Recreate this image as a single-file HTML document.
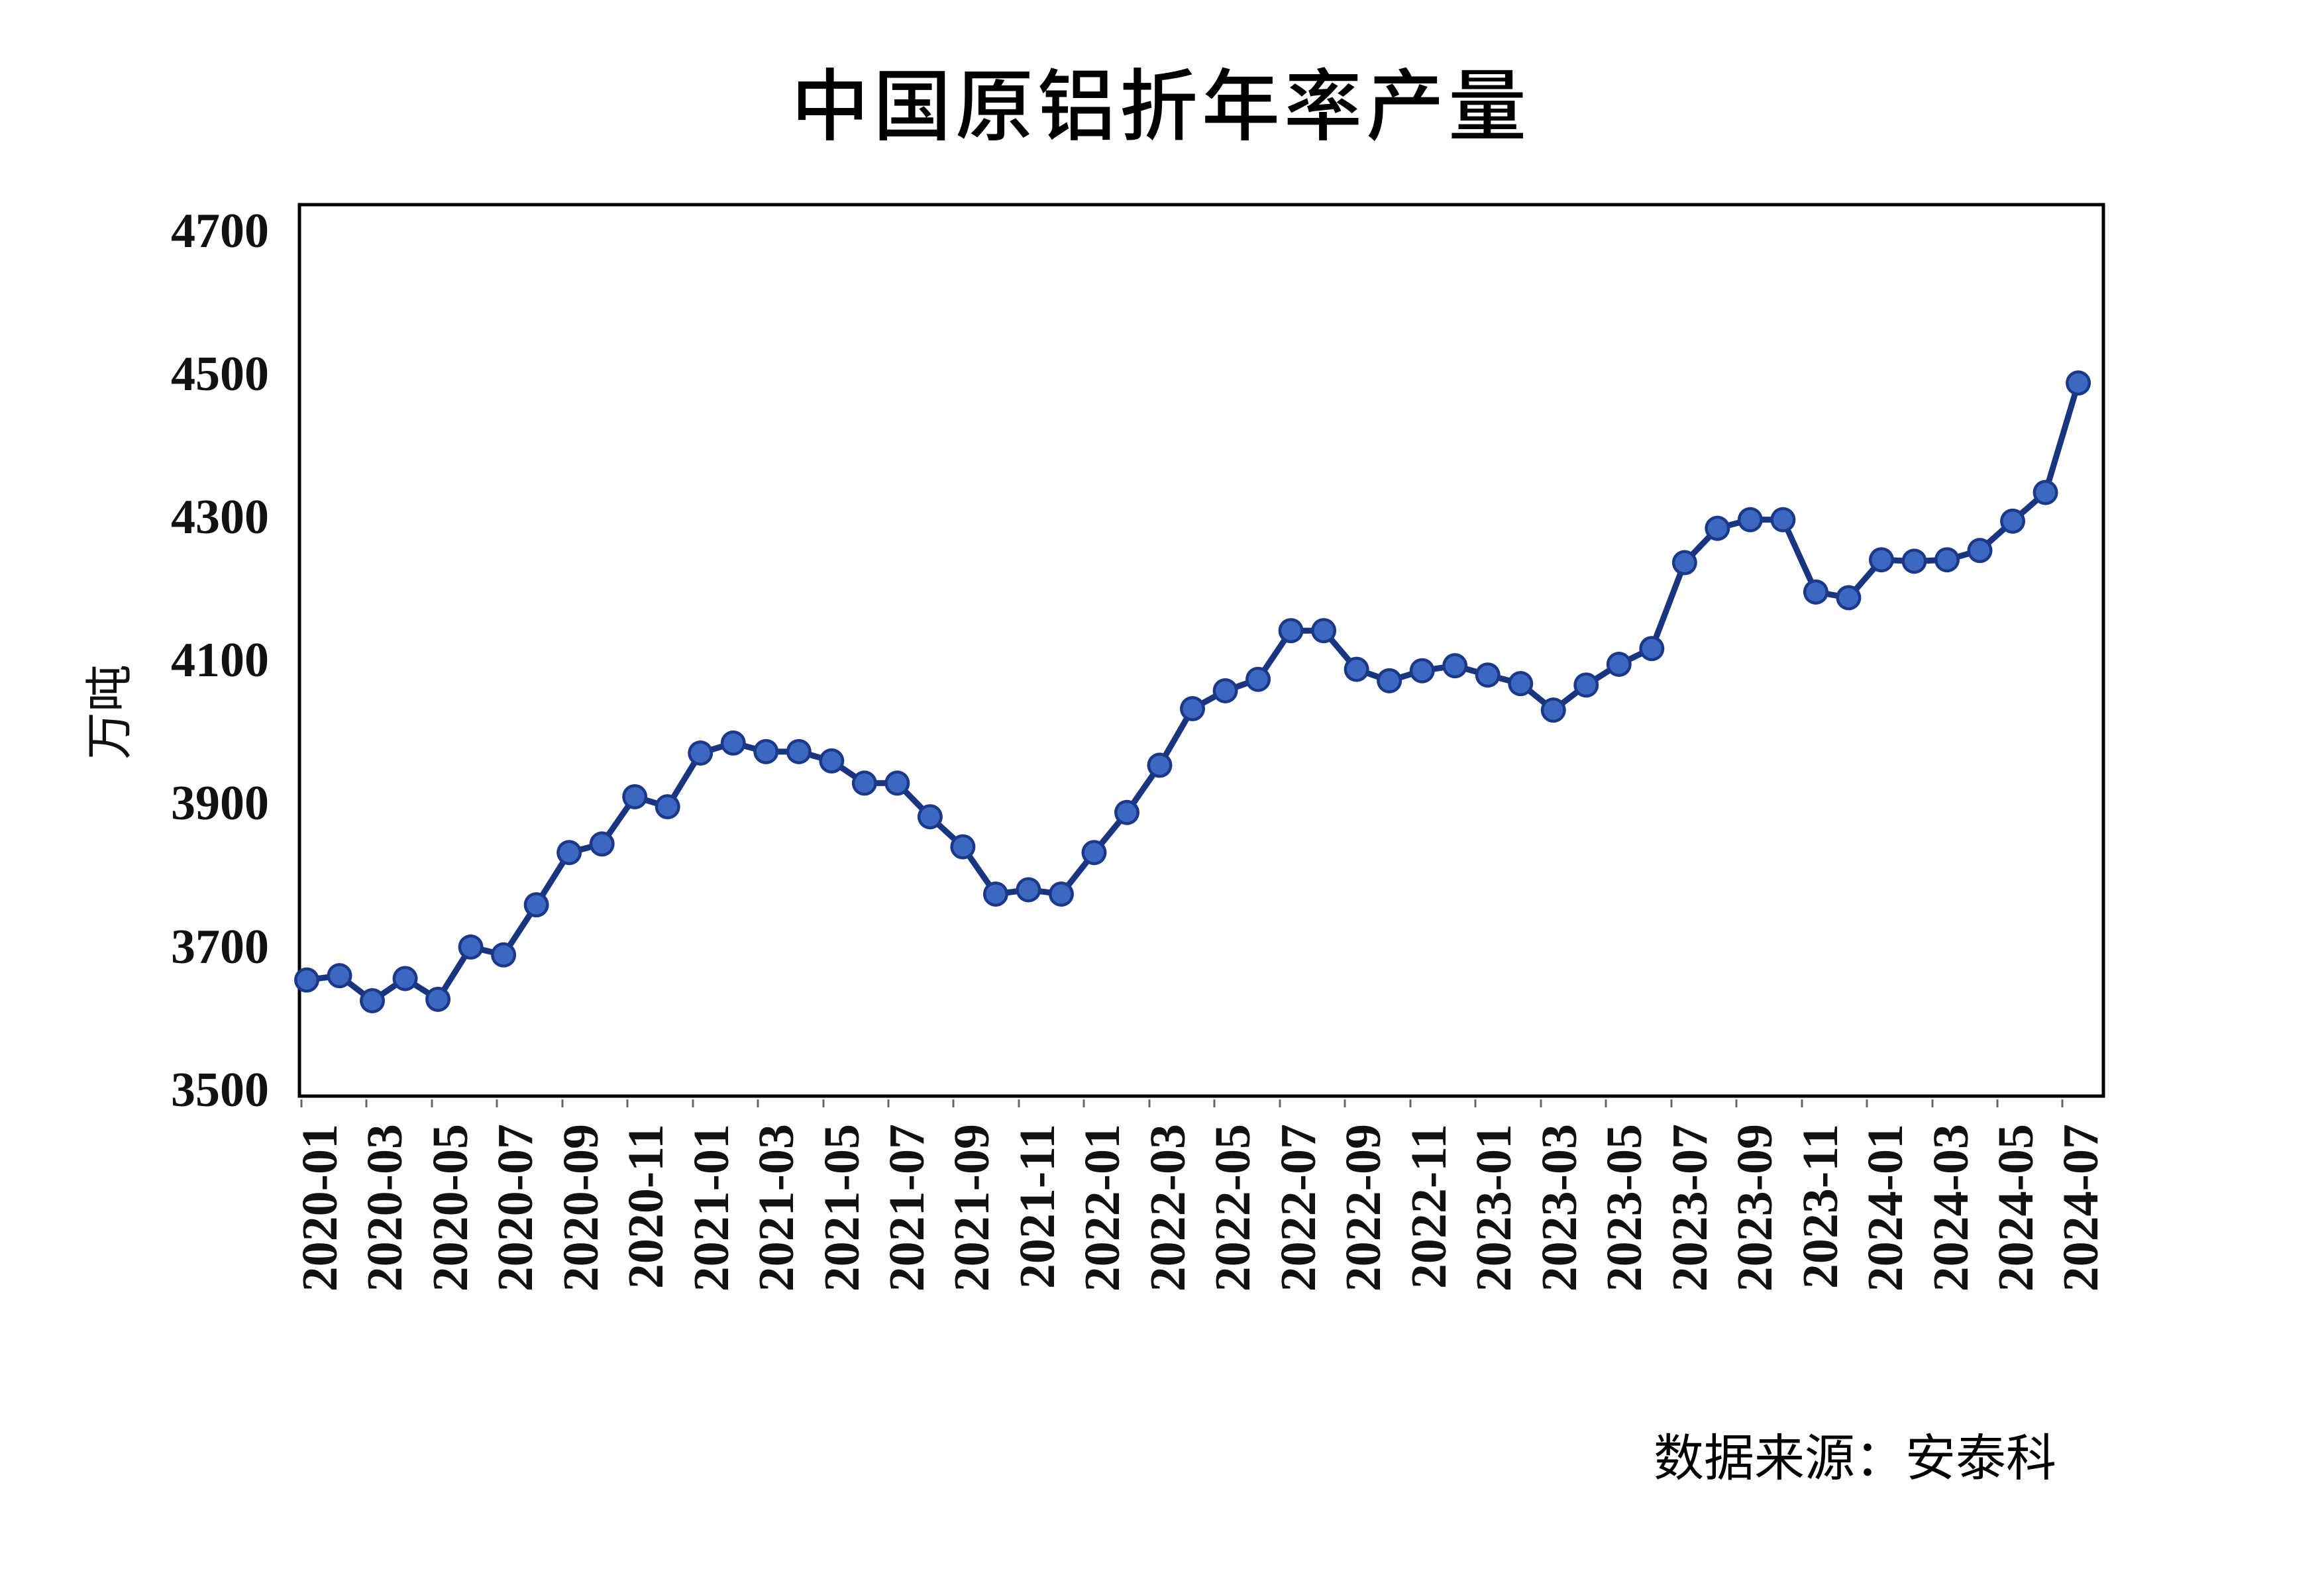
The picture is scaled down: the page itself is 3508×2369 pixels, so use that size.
<!DOCTYPE html>
<html><head><meta charset="utf-8"><style>
html,body{margin:0;padding:0;background:#fff;}
svg{display:block;}
.cjk{font-family:"Liberation Sans","Noto Sans CJK SC",sans-serif;}
.num{font-family:"Liberation Serif",serif;font-weight:bold;fill:#111;}
</style></head><body>
<svg width="3508" height="2369" viewBox="0 0 3508 2369" xmlns="http://www.w3.org/2000/svg">
<rect width="3508" height="2369" fill="#fff"/>
<text class="cjk" x="1752" y="202" font-size="118" text-anchor="middle" letter-spacing="6" fill="#000" font-weight="500">中国原铝折年率产量</text>
<rect x="452" y="309" width="2723" height="1346" fill="none" stroke="#000" stroke-width="5"/>
<g class="num" font-size="74" text-anchor="end">
<text x="406" y="373">4700</text>
<text x="406" y="589">4500</text>
<text x="406" y="805">4300</text>
<text x="406" y="1021">4100</text>
<text x="406" y="1237">3900</text>
<text x="406" y="1454">3700</text>
<text x="406" y="1670">3500</text>
</g>
<text class="cjk" transform="translate(190,1075) rotate(-90)" font-size="72" text-anchor="middle" fill="#111">万吨</text>
<g stroke="#666" stroke-width="3">
<path d="M455 1660v12M553 1660v12M652 1660v12M750 1660v12M849 1660v12M947 1660v12M1046 1660v12M1144 1660v12M1243 1660v12M1341 1660v12M1439 1660v12M1538 1660v12M1636 1660v12M1735 1660v12M1833 1660v12M1932 1660v12M2030 1660v12M2129 1660v12M2227 1660v12M2326 1660v12M2424 1660v12M2523 1660v12M2621 1660v12M2720 1660v12M2818 1660v12M2917 1660v12M3015 1660v12M3113 1660v12"/>
</g>
<g class="num" font-size="76" text-anchor="end">
<text transform="translate(508,1697) rotate(-90)">2020-01</text>
<text transform="translate(606,1697) rotate(-90)">2020-03</text>
<text transform="translate(705,1697) rotate(-90)">2020-05</text>
<text transform="translate(803,1697) rotate(-90)">2020-07</text>
<text transform="translate(902,1697) rotate(-90)">2020-09</text>
<text transform="translate(1000,1697) rotate(-90)">2020-11</text>
<text transform="translate(1099,1697) rotate(-90)">2021-01</text>
<text transform="translate(1197,1697) rotate(-90)">2021-03</text>
<text transform="translate(1296,1697) rotate(-90)">2021-05</text>
<text transform="translate(1394,1697) rotate(-90)">2021-07</text>
<text transform="translate(1492,1697) rotate(-90)">2021-09</text>
<text transform="translate(1591,1697) rotate(-90)">2021-11</text>
<text transform="translate(1689,1697) rotate(-90)">2022-01</text>
<text transform="translate(1788,1697) rotate(-90)">2022-03</text>
<text transform="translate(1886,1697) rotate(-90)">2022-05</text>
<text transform="translate(1985,1697) rotate(-90)">2022-07</text>
<text transform="translate(2083,1697) rotate(-90)">2022-09</text>
<text transform="translate(2182,1697) rotate(-90)">2022-11</text>
<text transform="translate(2280,1697) rotate(-90)">2023-01</text>
<text transform="translate(2379,1697) rotate(-90)">2023-03</text>
<text transform="translate(2477,1697) rotate(-90)">2023-05</text>
<text transform="translate(2576,1697) rotate(-90)">2023-07</text>
<text transform="translate(2674,1697) rotate(-90)">2023-09</text>
<text transform="translate(2773,1697) rotate(-90)">2023-11</text>
<text transform="translate(2871,1697) rotate(-90)">2024-01</text>
<text transform="translate(2970,1697) rotate(-90)">2024-03</text>
<text transform="translate(3068,1697) rotate(-90)">2024-05</text>
<text transform="translate(3166,1697) rotate(-90)">2024-07</text>
</g>
<g transform="translate(463,1645) scale(49.52,-1.0808)">
<polyline fill="none" stroke="#1a3580" stroke-width="9" vector-effect="non-scaling-stroke" stroke-linejoin="round" points="0,153 1,159 2,124 3,155 4,126 5,199 6,188 7,258 8,331 9,343 10,409 11,395 12,470 13,484 14,472 15,472 16,459 17,428 18,428 19,381 20,339 21,273 22,279 23,273 24,331 25,387 26,453 27,532 28,557 29,573 30,641 31,641 32,587 33,571 34,585 35,592 36,579 37,567 38,530 39,565 40,594 41,616 42,736 43,784 44,796 45,796 46,695 47,687 48,740 49,738 50,740 51,753 52,794 53,834 54,987"/>
<path fill="none" stroke="#1c3888" stroke-width="38" stroke-linecap="round" vector-effect="non-scaling-stroke" d="M0 153h0M1 159h0M2 124h0M3 155h0M4 126h0M5 199h0M6 188h0M7 258h0M8 331h0M9 343h0M10 409h0M11 395h0M12 470h0M13 484h0M14 472h0M15 472h0M16 459h0M17 428h0M18 428h0M19 381h0M20 339h0M21 273h0M22 279h0M23 273h0M24 331h0M25 387h0M26 453h0M27 532h0M28 557h0M29 573h0M30 641h0M31 641h0M32 587h0M33 571h0M34 585h0M35 592h0M36 579h0M37 567h0M38 530h0M39 565h0M40 594h0M41 616h0M42 736h0M43 784h0M44 796h0M45 796h0M46 695h0M47 687h0M48 740h0M49 738h0M50 740h0M51 753h0M52 794h0M53 834h0M54 987h0"/>
<path fill="none" stroke="#3d68c2" stroke-width="29" stroke-linecap="round" vector-effect="non-scaling-stroke" d="M0 153h0M1 159h0M2 124h0M3 155h0M4 126h0M5 199h0M6 188h0M7 258h0M8 331h0M9 343h0M10 409h0M11 395h0M12 470h0M13 484h0M14 472h0M15 472h0M16 459h0M17 428h0M18 428h0M19 381h0M20 339h0M21 273h0M22 279h0M23 273h0M24 331h0M25 387h0M26 453h0M27 532h0M28 557h0M29 573h0M30 641h0M31 641h0M32 587h0M33 571h0M34 585h0M35 592h0M36 579h0M37 567h0M38 530h0M39 565h0M40 594h0M41 616h0M42 736h0M43 784h0M44 796h0M45 796h0M46 695h0M47 687h0M48 740h0M49 738h0M50 740h0M51 753h0M52 794h0M53 834h0M54 987h0"/>
</g>
<text class="cjk" x="2496" y="2228" font-size="76" fill="#000">数据来源：安泰科</text>
</svg>
</body></html>
